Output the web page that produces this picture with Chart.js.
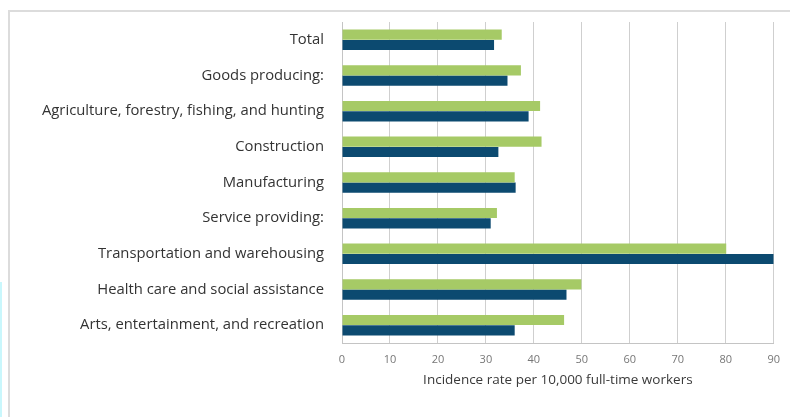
<!DOCTYPE html>
<html>
<head>
<meta charset="utf-8">
<title>Incidence rate by industry</title>
<script src="https://cdn.jsdelivr.net/npm/chart.js@4/dist/chart.umd.min.js"></script>
<style>
    html, body {
        margin: 0;
        padding: 0;
        background: #fff;
        overflow: hidden;
    }
    .wrap {
        position: relative;
        width: 790px;
        height: 417px;
    }
    .frame {
        position: absolute;
        left: 8px;
        top: 10px;
        width: 800px;
        height: 420px;
        border-top: 2px solid #dcdcdc;
        border-left: 2px solid #dcdcdc;
    }
    .edge {
        position: absolute;
        left: 0;
        top: 282px;
        width: 2px;
        height: 135px;
        background: #c9f7fc;
    }
    canvas {
        position: absolute;
        left: 0;
        top: 0;
    }
</style>
</head>
<body>
<div class="wrap">
    <div class="frame"></div>
    <div class="edge"></div>
    <canvas id="rateChart" width="790" height="417"></canvas>
</div>

<script>
// Chart data
const categories = [
    'Total',
    'Goods producing:',
    'Agriculture, forestry, fishing, and hunting',
    'Construction',
    'Manufacturing',
    'Service providing:',
    'Transportation and warehousing',
    'Health care and social assistance',
    'Arts, entertainment, and recreation'
];

// upper (light green) bar in each pair
const seriesGreen = [33.3, 37.3, 41.3, 41.6, 36.0, 32.3, 80.1, 49.9, 46.3];

// lower (dark blue) bar in each pair
const seriesBlue = [31.7, 34.5, 38.9, 32.6, 36.2, 31.0, 90.0, 46.8, 36.0];

const xTicks = [0, 10, 20, 30, 40, 50, 60, 70, 80, 90];
const xTitle = 'Incidence rate per 10,000 full-time workers';

let rateChart = null;

document.addEventListener('DOMContentLoaded', function() {
    renderRateChart();
});

/**
 * Render the horizontal grouped bar chart
 */
function renderRateChart() {
    const canvas = document.getElementById('rateChart');
    if (!canvas) return;

    const ctx = canvas.getContext('2d');
    rateChart = new Chart(ctx, {
        type: 'bar',
        data: {
            labels: categories,
            datasets: [
                {
                    label: 'Series 1',
                    data: seriesGreen,
                    backgroundColor: '#a6ca66',
                    categoryPercentage: 0.58,
                    barPercentage: 0.98
                },
                {
                    label: 'Series 2',
                    data: seriesBlue,
                    backgroundColor: '#0c4a70',
                    categoryPercentage: 0.58,
                    barPercentage: 0.98
                }
            ]
        },
        options: {
            indexAxis: 'y',
            responsive: false,
            animation: false,
            layout: {
                padding: { top: 22, right: 14, left: 0, bottom: 0 }
            },
            plugins: {
                legend: { display: false },
                tooltip: { enabled: false }
            },
            scales: {
                x: {
                    min: 0,
                    max: 90,
                    afterBuildTicks: function(scale) {
                        scale.ticks = xTicks.map(v => ({ value: v }));
                    },
                    afterFit: function(scale) {
                        scale.height = 74;
                    },
                    grid: {
                        color: '#cfcfcf',
                        lineWidth: 1,
                        drawTicks: false
                    },
                    border: {
                        display: true,
                        color: '#c4c4c4'
                    },
                    ticks: {
                        padding: 10,
                        color: '#777',
                        font: { size: 11, family: "'Open Sans', sans-serif" }
                    },
                    title: {
                        display: true,
                        text: xTitle,
                        color: '#3a3a3a',
                        padding: { top: 4, bottom: 29 },
                        font: { size: 13.5, family: "'Open Sans', sans-serif" }
                    }
                },
                y: {
                    afterFit: function(scale) {
                        scale.width = 342;
                    },
                    grid: {
                        display: false
                    },
                    border: {
                        display: true,
                        color: '#c4c4c4'
                    },
                    ticks: {
                        padding: 10,
                        color: '#333',
                        font: { size: 14.8, family: "'Open Sans', sans-serif" }
                    }
                }
            }
        }
    });
}
</script>
</body>
</html>
